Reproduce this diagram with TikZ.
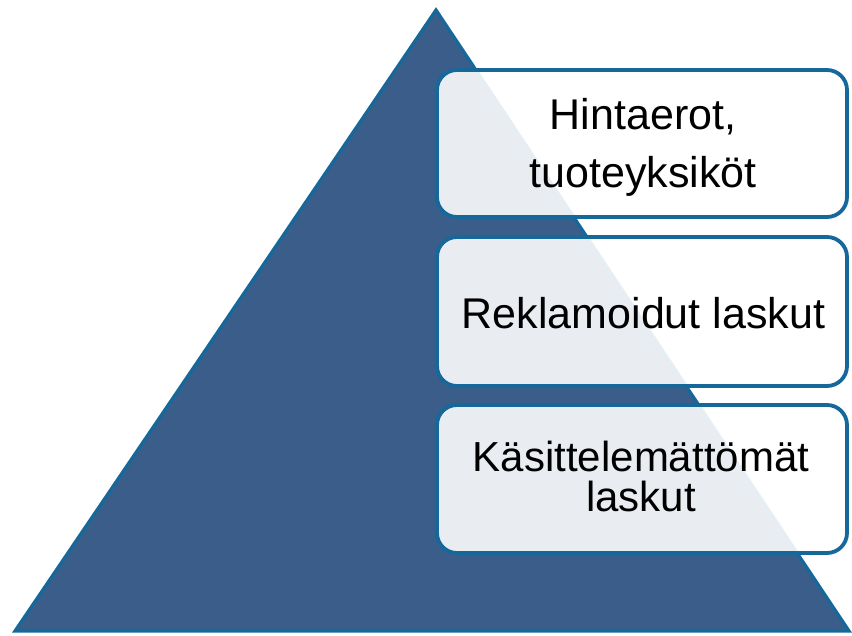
\documentclass[tikz,border=0pt]{standalone}
\usepackage{fontspec}
\setmainfont{Liberation Sans}
\definecolor{trifill}{RGB}{58,94,137}
\definecolor{edgeblue}{RGB}{22,104,155}
\begin{document}
\begin{tikzpicture}[x=1pt,y=-1pt,
  levelbox/.style={draw=edgeblue, line width=3.8pt, fill=white, fill opacity=0.89,
    rounded corners=20pt, minimum width=410pt, inner sep=0pt, outer sep=0pt},
  leveltext/.style={align=center, text=black, inner sep=0pt},
  tri/.style={draw=edgeblue, line width=3.2pt, fill=trifill, line join=miter}]
\useasboundingbox (0,0) rectangle (852,635);
\coordinate (apex) at (436,10);
\coordinate (bl) at (15,631);
\coordinate (br) at (849,631);
\draw[tri] (apex) -- (br) -- (bl) -- cycle;
\node[levelbox, minimum height=147pt] (b1) at (642,143.5) {};
\node[levelbox, minimum height=149pt] (b2) at (642,311.5) {};
\node[levelbox, minimum height=148pt] (b3) at (642,479) {};
\node[leveltext, font=\fontsize{43}{58}\selectfont] (t1) at (643,147.5) {Hintaerot,\\tuoteyksiköt};
\node[leveltext, font=\fontsize{43}{50}\selectfont] (t2) at (643.5,313) {Reklamoidut laskut};
\node[leveltext, font=\fontsize{42}{40}\selectfont] (t3) at (641,476) {Käsittelemättömät\\laskut};
\end{tikzpicture}
\end{document}
